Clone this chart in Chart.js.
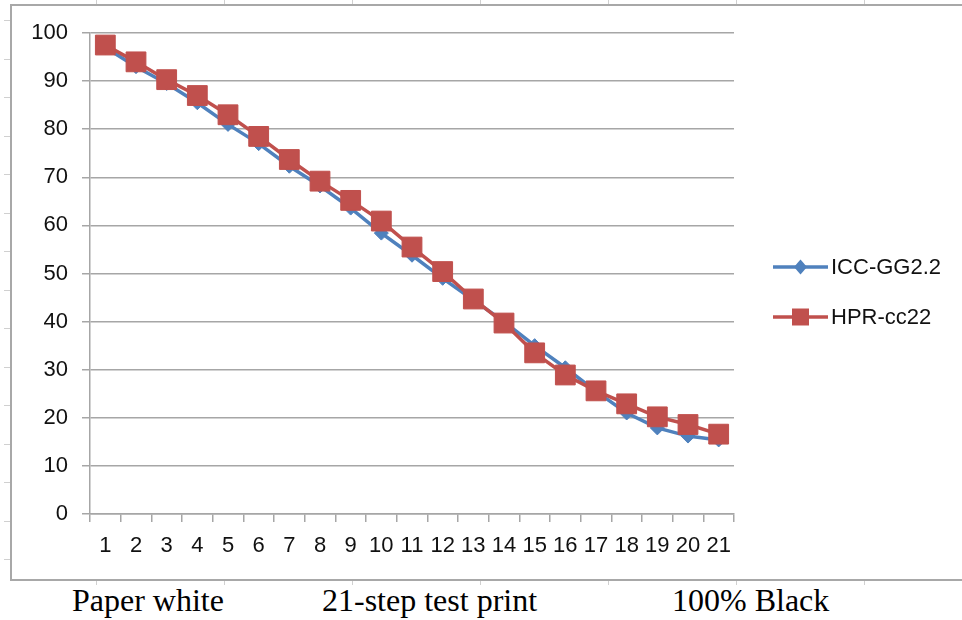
<!DOCTYPE html>
<html>
<head>
<meta charset="utf-8">
<script src="https://cdn.jsdelivr.net/npm/chart.js@4"></script>
<style>
  html, body { margin: 0; padding: 0; background: #fff; overflow: hidden; }
  body { width: 962px; height: 620px; position: relative; }
  #frame {
    position: absolute; left: 10px; top: 4px; width: 1000px; height: 573px;
    border-top: 2px solid #a8a8a8; border-left: 2px solid #a8a8a8; border-bottom: 2px solid #a8a8a8;
  }
  .tick { position: absolute; background: #d0d0d0; }
  #chart { position: absolute; left: 0; top: 0; }
  .caption {
    position: absolute; top: 584px; font-family: "Liberation Serif", "Times New Roman", serif;
    font-size: 32px; line-height: 32px; color: #000; white-space: nowrap;
  }
</style>
</head>
<body>
<div id="frame"></div>
<canvas id="chart" width="962" height="580"></canvas>
<div class="caption" style="left:72px">Paper white</div>
<div class="caption" style="left:322px">21-step test print</div>
<div class="caption" style="left:672px">100% Black</div>
<script>
// 21 steps of the test print
var steps = ['1', '2', '3', '4', '5', '6', '7', '8', '9', '10', '11',
             '12', '13', '14', '15', '16', '17', '18', '19', '20', '21'];
var icc_values = [97, 93, 89.5, 85.5, 81, 77, 72.3, 68.2, 63.6, 58.4, 53.8,
                  49, 44.5, 40, 35, 30.4, 25.5, 21, 17.9, 16.2, 15.4];
var hpr_values = [97.5, 94, 90.3, 87, 83, 78.5, 73.7, 69.2, 65.2, 60.9, 55.5,
                  50.4, 44.7, 39.7, 33.5, 28.9, 25.6, 22.9, 20.2, 18.6, 16.6];
var series_names = ['ICC-GG2.2', 'HPR-cc22'];
var y_ticks = [0, 10, 20, 30, 40, 50, 60, 70, 80, 90, 100];

var blue = '#4f81bd';
var red = '#c0504d';
var gridColor = '#a6a6a6';
var labelFont = { family: '"Liberation Sans", Arial, sans-serif', size: 22 };

// faint ruler ticks on the page frame
function addTick(x, y, w, h) {
    let d = document.createElement('div')
    d.className = 'tick'
    d.style.left = x + 'px'; d.style.top = y + 'px'
    d.style.width = w + 'px'; d.style.height = h + 'px'
    document.body.appendChild(d)
}
for (let x = 96; x < 962; x += 128) {
    addTick(x, 0, 1, 4)
    addTick(x, 581, 1, 4)
}
for (let y = 20; y < 580; y += 38.5) {
    addTick(4, Math.round(y), 6, 1)
}

/**
 * legend drawn as Excel does it: a short line with the marker in the middle
 */
var lineLegend = {
    id: 'lineLegend',
    afterDraw(chart) {
        const ctx = chart.ctx
        const area = chart.chartArea
        const x0 = area.right + 39
        const len = 55
        chart.data.datasets.forEach(function (ds, i) {
            const y = area.top + 234 + i * 50
            ctx.save()
            ctx.strokeStyle = ds.borderColor
            ctx.lineWidth = ds.borderWidth
            ctx.beginPath()
            ctx.moveTo(x0, y)
            ctx.lineTo(x0 + len, y)
            ctx.stroke()
            const cx = x0 + len / 2
            ctx.fillStyle = ds.pointBackgroundColor
            ctx.beginPath()
            if (ds.pointStyle === 'rect') {
                ctx.rect(cx - 8.5, y - 8.5, 17, 17)
            } else {
                ctx.moveTo(cx, y - 7.5)
                ctx.lineTo(cx + 6.5, y)
                ctx.lineTo(cx, y + 7.5)
                ctx.lineTo(cx - 6.5, y)
                ctx.closePath()
            }
            ctx.fill()
            ctx.fillStyle = '#111'
            ctx.font = labelFont.size + 'px ' + labelFont.family
            ctx.textBaseline = 'middle'
            ctx.textAlign = 'left'
            ctx.fillText(ds.label, x0 + len + 3, y + 1)
            ctx.restore()
        })
    }
};

new Chart(document.getElementById('chart'), {
    type: 'line',
    data: {
        labels: steps,
        datasets: [{
            label: series_names[0],
            data: icc_values,
            borderColor: blue,
            backgroundColor: blue,
            pointBackgroundColor: blue,
            pointBorderColor: blue,
            borderWidth: 3.5,
            pointStyle: 'rectRot',
            pointRadius: 7,
            pointBorderWidth: 1,
            order: 1
        }, {
            label: series_names[1],
            data: hpr_values,
            borderColor: red,
            backgroundColor: red,
            pointBackgroundColor: red,
            pointBorderColor: red,
            borderWidth: 3.5,
            pointStyle: 'rect',
            pointRadius: 14,
            pointBorderWidth: 1,
            order: 0
        }]
    },
    options: {
        responsive: false,
        animation: false,
        events: [],
        layout: { padding: { left: 0, right: 228, top: 33, bottom: 0 } },
        plugins: {
            legend: { display: false },
            tooltip: { enabled: false }
        },
        scales: {
            x: {
                type: 'category',
                offset: true,
                grid: {
                    offset: true,
                    drawOnChartArea: false,
                    drawTicks: true,
                    tickLength: 8,
                    color: gridColor,
                    lineWidth: 1.5
                },
                border: { display: true, color: gridColor, width: 1.5 },
                ticks: {
                    color: '#111',
                    font: labelFont,
                    padding: 11,
                    maxRotation: 0,
                    autoSkip: false
                },
                afterFit(scale) { scale.height = 66 }
            },
            y: {
                min: 0,
                max: 100,
                afterBuildTicks(scale) {
                    scale.ticks = y_ticks.map(function (v) { return { value: v } })
                },
                grid: {
                    color: gridColor,
                    lineWidth: 1.5,
                    tickLength: 8
                },
                border: { display: true, color: gridColor, width: 1.5 },
                ticks: {
                    color: '#111',
                    font: labelFont,
                    padding: 14
                },
                afterFit(scale) { scale.width = 90 }
            }
        }
    },
    plugins: [lineLegend]
});
</script>
</body>
</html>
